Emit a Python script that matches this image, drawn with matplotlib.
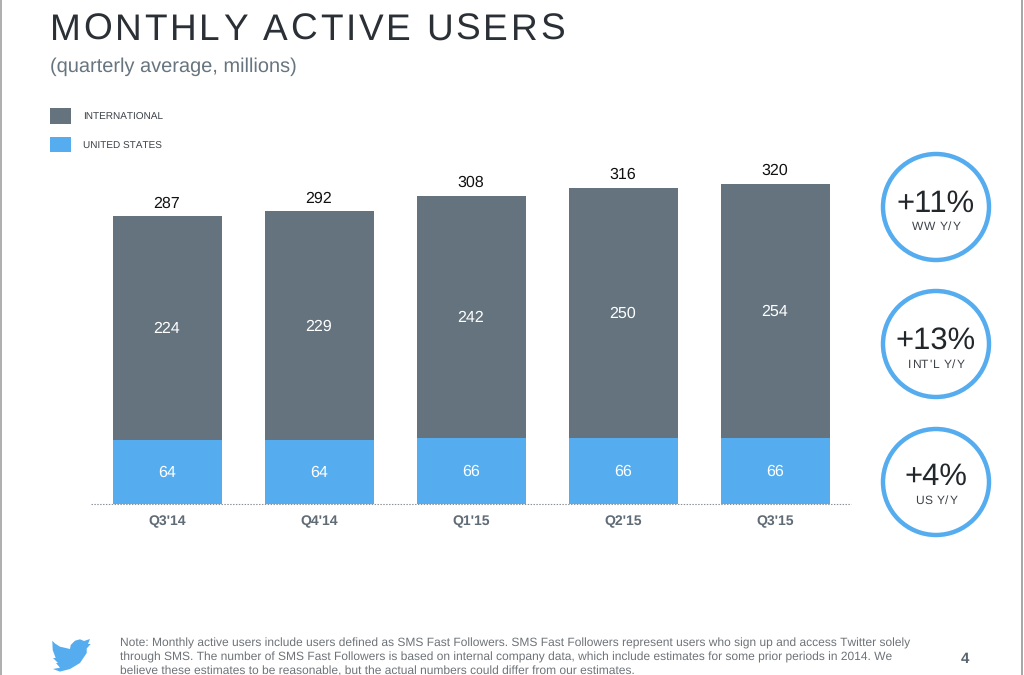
"""
Monthly active users slide
"""
import matplotlib
matplotlib.use("Agg")
import matplotlib.pyplot as plt
from matplotlib.patches import Circle, Polygon, Rectangle
import numpy as np

W, H = 1024, 675
GREY = "#64737e"
BLUE = "#55acee"
FONT = "Liberation Sans"

quarters = ["Q3'14", "Q4'14", "Q1'15", "Q2'15", "Q3'15"]
international = [224, 229, 242, 250, 254]
united_states = [64, 64, 66, 66, 66]
totals = [287, 292, 308, 316, 320]

growth = ["+11%", "+13%", "+4%"]
growth_labels = ["WW Y/Y", "INT'L Y/Y", "US Y/Y"]

note_lines = [
    "Note: Monthly active users include users defined as SMS Fast Followers. SMS Fast Followers represent users who sign up and access Twitter solely",
    "through SMS. The number of SMS Fast Followers is based on internal company data, which include estimates for some prior periods in 2014. We",
    "believe these estimates to be reasonable, but the actual numbers could differ from our estimates.",
]

plt.rcParams["font.family"] = [FONT, "DejaVu Sans"]
plt.rcParams["text.hinting"] = "no_hinting"
plt.rcParams["text.hinting_factor"] = 1

fig = plt.figure(figsize=(W / 100, H / 100), dpi=100, facecolor="white")

# overlay in pixel coords for the slide furniture
page = fig.add_axes([0, 0, 1, 1])
page.set_xlim(0, W)
page.set_ylim(H, 0)
page.axis("off")


def spaced_text(ax, x, y, s, size, color, gap, center=False):
    # matplotlib has no letter spacing, so place the glyphs one at a time
    r = fig.canvas.get_renderer()
    def adv(c):
        t = ax.text(0, 0, "H" + c + "H", fontsize=size)
        w = t.get_window_extent(r).width
        t.remove()
        return w
    base = adv("")
    steps = [adv(c) - base + gap for c in s]
    if center:
        x -= (sum(steps) - gap) / 2
    for c, step in zip(s, steps):
        ax.text(x, y, c, fontsize=size, color=color, va="baseline", ha="left")
        x += step


# --- bars ---
ax = fig.add_axes([91 / W, (H - 504) / H, 760 / W, 354 / H])
ax.patch.set_alpha(0)
x = np.arange(len(quarters))
ax.bar(x, united_states, width=0.717, color=BLUE)
ax.bar(x, international, width=0.717, bottom=united_states, color=GREY)
ax.set_xlim(-0.503, 4.497)
ax.set_ylim(0, 354)
ax.set_yticks([])
ax.set_xticks(x, quarters, fontsize=9.8, fontweight="bold", color="#5f6b75")
ax.tick_params(axis="x", length=0, pad=7.8)
for s in ["top", "left", "right"]:
    ax.spines[s].set_visible(False)
ax.spines["bottom"].set_linestyle((0, (1.3, 1.3)))
ax.spines["bottom"].set_linewidth(0.8)
ax.spines["bottom"].set_capstyle("butt")
ax.spines["bottom"].set_color("#8a9299")

for i in range(len(quarters)):
    us = united_states[i]
    ax.text(i - 0.004, us / 2 - 1, str(us), ha="center", va="center", color="white", fontsize=11.5)
    ax.text(i - 0.004, us + international[i] / 2 - 1, str(international[i]), ha="center",
            va="center", color="white", fontsize=11.5)
    ax.text(i - 0.004, totals[i] + 6, str(totals[i]), ha="center", va="bottom",
            color="#111111", fontsize=11.5)

# --- title ---
spaced_text(page, 50, 40, "MONTHLY ACTIVE USERS", 26.5, "#2b3036", 2.75)
page.text(50, 72, "(quarterly average, millions)", fontsize=14.2, color="#66757f",
          va="baseline")

# --- legend ---
page.add_patch(Rectangle((50, 108), 21, 16, color=GREY, lw=0))
page.add_patch(Rectangle((50, 137), 21, 15, color=BLUE, lw=0))
page.text(83, 120, "INTERNATIONAL", fontsize=7.1, color="#3c4248", va="baseline")
page.text(83, 149, "UNITED STATES", fontsize=7.1, color="#3c4248", va="baseline")

# --- growth circles ---
for cy, d_big, d_small, big, small in zip([207, 344, 482], [5, 5, 3], [23, 24, 22],
                                          growth, growth_labels):
    page.add_patch(Circle((936, cy), 53, fill=False, edgecolor=BLUE, lw=3.2))
    page.text(936, cy + d_big, big, fontsize=22.3, color="#22272c", ha="center", va="baseline")
    spaced_text(page, 936, cy + d_small, small, 8.4, "#3c4248", 0.7, center=True)

# --- footer ---
for i, line in enumerate(note_lines):
    page.text(120, 646.5 + i * 14, line, fontsize=8.58, color="#6e7378", va="baseline")
page.text(965, 663, "4", fontsize=10.5, fontweight="bold", color="#59646e", ha="center",
          va="baseline")

# twitter bird, rough outline in pixel coords
bird = [(52.3, 640.7), (55, 643.5), (60, 646.7), (70, 649), (70.7, 645), (75, 640.7),
        (80, 639.3), (84, 641), (90, 639), (88, 644), (90.7, 644), (86.7, 648.5),
        (86.7, 653), (80, 663), (70, 669), (60, 671.6), (53, 669), (60, 667.7),
        (56, 663), (58, 663), (53, 658), (55.7, 658), (52.7, 650)]
page.add_patch(Polygon(bird, closed=True, color=BLUE, lw=0))

# page edges
page.add_patch(Rectangle((0, 0), 1.5, H, color="#b0b0b0", lw=0))
page.add_patch(Rectangle((1021, 0), 1.5, H, color="#a8a8a8", lw=0))

fig.savefig("out.png", dpi=100)
